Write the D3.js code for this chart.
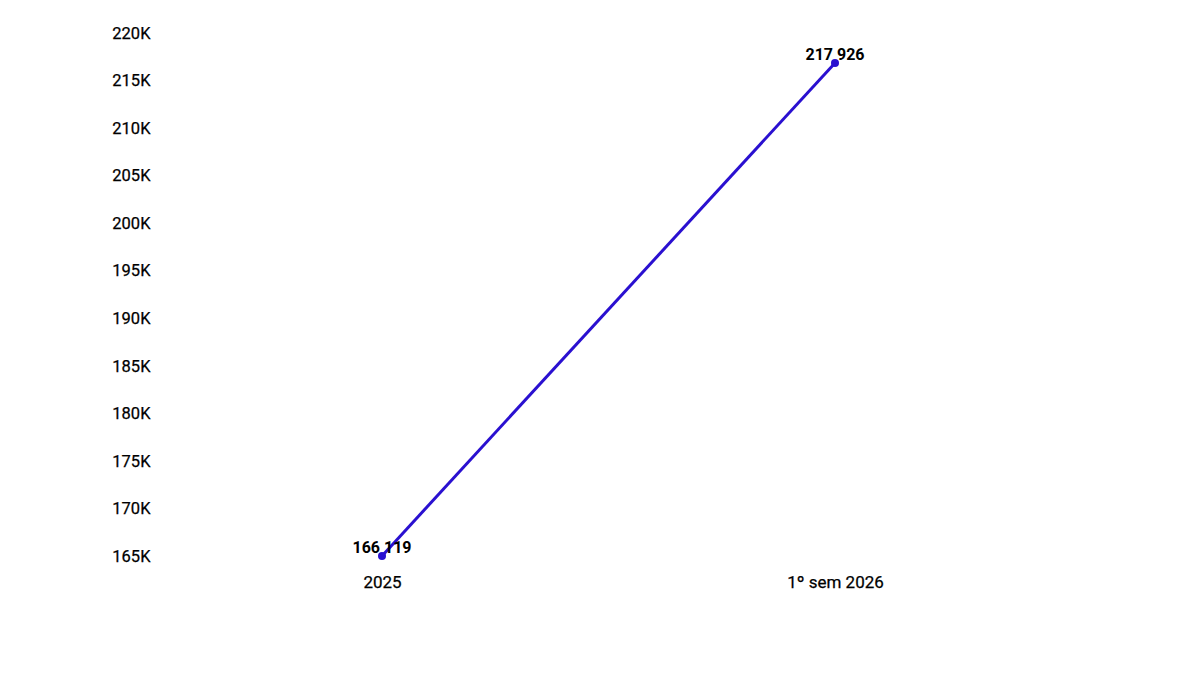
<!DOCTYPE html>
<html>
<head>
<meta charset="utf-8">
<script src="https://cdn.jsdelivr.net/npm/d3@7"></script>
<style>
  html, body { margin: 0; padding: 0; background: #fff; }
  svg { display: block; font-family: Roboto, "Noto Sans", sans-serif; }
</style>
</head>
<body>
<svg id="chart" width="1200" height="675"></svg>
<script>
const categories = ["2025", "1º sem 2026"];
const values = [166119, 217926];
const yTicks = [165000, 170000, 175000, 180000, 185000, 190000, 195000, 200000, 205000, 210000, 215000, 220000];

const svg = d3.select("#chart");
const x = d3.scalePoint().domain(categories).range([382, 835]);
const y = d3.scaleLinear().domain([165000, 220000]).range([566.6, 43.2]);

const fmtTick = d => (d / 1000) + "K";
const fmtVal = d => d3.format(",")(d).replace(/,/g, " ");

// Y axis
const yAxis = svg.append("g").attr("transform", "translate(150.5,0)")
  .call(d3.axisLeft(y).tickValues(yTicks).tickFormat(fmtTick).tickSize(0).tickPadding(0));
yAxis.select(".domain").remove();
yAxis.selectAll("text")
  .attr("font-family", "Roboto, sans-serif")
  .attr("font-size", 16.5)
  .attr("fill", "#000")
  .attr("stroke", "#000")
  .attr("stroke-width", 0.25)
  .attr("dy", null)
  .attr("dominant-baseline", "middle")
  .attr("y", -9.5);

// X axis
const xAxis = svg.append("g").attr("transform", "translate(0,566.6)")
  .call(d3.axisBottom(x).tickSize(0).tickPadding(0));
xAxis.select(".domain").remove();
xAxis.selectAll("text")
  .attr("font-family", "Roboto, sans-serif")
  .attr("font-size", 17)
  .attr("fill", "#000")
  .attr("stroke", "#000")
  .attr("stroke-width", 0.25)
  .attr("dy", null)
  .attr("dominant-baseline", "middle")
  .attr("y", 16.5);

const data = categories.map((c, i) => ({ c, v: values[i] }));

svg.append("path")
  .datum(data)
  .attr("fill", "none")
  .attr("stroke", "#2a10d0")
  .attr("stroke-width", 3)
  .attr("d", d3.line().x(d => x(d.c)).y(d => y(d.v)));

svg.selectAll("circle.pt").data(data).join("circle")
  .attr("class", "pt")
  .attr("cx", d => x(d.c))
  .attr("cy", d => y(d.v))
  .attr("r", 4)
  .attr("fill", "#2a10d0");

svg.selectAll("text.lbl").data(data).join("text")
  .attr("class", "lbl")
  .attr("x", d => x(d.c))
  .attr("y", d => y(d.v) - 3)
  .attr("text-anchor", "middle")
  .attr("font-family", "Roboto, sans-serif")
  .attr("font-weight", "bold")
  .attr("font-size", 16)
  .attr("fill", "#000")
  .text(d => fmtVal(d.v));
</script>
</body>
</html>
